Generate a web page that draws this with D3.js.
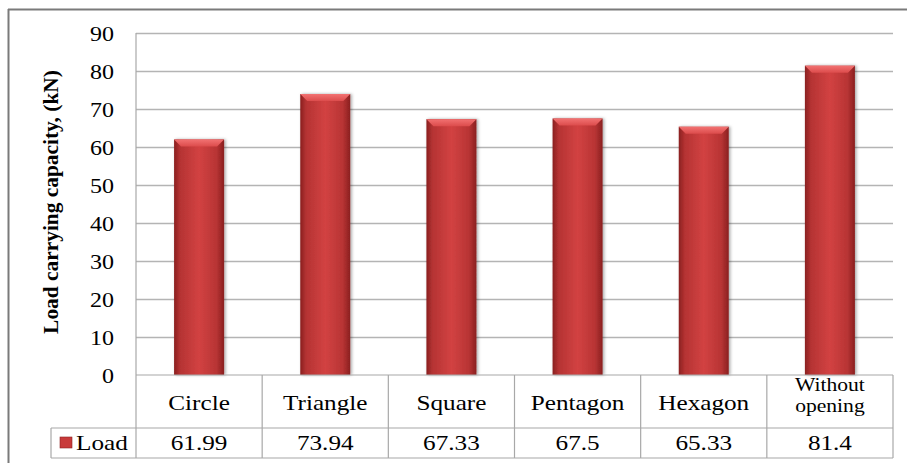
<!DOCTYPE html>
<html><head><meta charset="utf-8">
<script src="https://cdn.jsdelivr.net/npm/d3@7"></script>
<style>body{margin:0;background:#fff}svg{display:block}</style>
</head><body>
<script>
const categories = ["Circle","Triangle","Square","Pentagon","Hexagon","Without opening"];
const loadValues = [61.99,73.94,67.33,67.5,65.33,81.4];
const valueLabels = ["61.99","73.94","67.33","67.5","65.33","81.4"];
const yTicks = [0,10,20,30,40,50,60,70,80,90];
const seriesName = "Load";
const yTitle = "Load carrying capacity, (kN)";

(function(){
const W=907,H=463;
const FF='"Liberation Serif"';
const SX=1.2;
const svg=d3.select("body").append("svg").attr("width",W).attr("height",H)
  .attr("font-family","Liberation Serif").style("font-family",FF);
const defs=svg.append("defs");
const g1=defs.append("linearGradient").attr("id","barG").attr("x1","0").attr("x2","1").attr("y1","0").attr("y2","0");
[[0,"#8a2020"],[0.12,"#b53333"],[0.5,"#d24242"],[0.85,"#b83434"],[1,"#8a2020"]].forEach(s=>g1.append("stop").attr("offset",s[0]).attr("stop-color",s[1]));
const g2=defs.append("linearGradient").attr("id","bevG").attr("x1","0").attr("x2","0").attr("y1","0").attr("y2","1");
[[0,"#f27272"],[1,"#dc4c4c"]].forEach(s=>g2.append("stop").attr("offset",s[0]).attr("stop-color",s[1]));
const f=defs.append("filter").attr("id","sh").attr("x","-20%").attr("y","-5%").attr("width","140%").attr("height","110%");
f.append("feDropShadow").attr("dx",1.5).attr("dy",0).attr("stdDeviation",1.5).attr("flood-color","#000").attr("flood-opacity",0.35);

// outer frame (top & left)
svg.append("line").attr("x1",8).attr("x2",W).attr("y1",9.5).attr("y2",9.5).attr("stroke","#7a7a7a").attr("stroke-width",2);
svg.append("line").attr("x1",8.5).attr("x2",8.5).attr("y1",9).attr("y2",H).attr("stroke","#7a7a7a").attr("stroke-width",2);

const pL=136,pR=893,pT=33,pB=375;
const x=d3.scaleBand().domain(categories).range([pL,pR]);
const y=d3.scaleLinear().domain([0,90]).range([pB,pT]);

// gridlines
svg.append("g").selectAll("line").data(yTicks.filter(d=>d>0)).join("line")
 .attr("x1",pL).attr("x2",pR).attr("y1",d=>y(d)+0.5).attr("y2",d=>y(d)+0.5)
 .attr("stroke","#b4b4b4").attr("stroke-width",1.5);

// y axis
const ya=svg.append("g").attr("transform",`translate(${pL},0)`)
 .call(d3.axisLeft(y).tickValues(yTicks).tickSize(0).tickPadding(0));
ya.attr("font-family","Liberation Serif").attr("font-size",null);
ya.select(".domain").remove();
ya.selectAll(".tick text").attr("x",null).attr("dy",null).attr("y",null)
 .attr("transform",`translate(-22,7) scale(${SX},1)`)
 .style("font-family",FF).style("font-size","20px").attr("fill","#000");

// y title
const tt=svg.append("text").style("font-family",FF).style("font-size","21px").style("font-weight","bold")
 .attr("text-anchor","middle").attr("fill","#000").text(yTitle);
const tl=tt.node().getComputedTextLength();
tt.attr("transform",`translate(58,202) rotate(-90) scale(${264/tl},1)`);

// bars
const bw=50;
const bars=svg.append("g").selectAll("g").data(categories).join("g");
bars.append("rect").attr("x",d=>x(d)+x.bandwidth()/2-bw/2).attr("y",(d,i)=>y(loadValues[i]))
 .attr("width",bw).attr("height",(d,i)=>pB-y(loadValues[i])).attr("fill","url(#barG)").attr("filter","url(#sh)");
bars.append("path").attr("d",(d,i)=>{const x0=x(d)+x.bandwidth()/2-bw/2,y0=y(loadValues[i]),b=7;
  return `M${x0},${y0}H${x0+bw}L${x0+bw-b},${y0+b}H${x0+b}Z`;}).attr("fill","url(#bevG)");

// table
const tc="#a8a8a8";
const rowTop=pB,rowMid=428,rowBot=458,legL=51;
const tbl=svg.append("g").attr("stroke",tc).attr("stroke-width",1.2);
tbl.append("line").attr("x1",pL).attr("x2",pL).attr("y1",pT).attr("y2",rowBot);
tbl.append("line").attr("x1",pL).attr("x2",pR).attr("y1",rowTop).attr("y2",rowTop);
tbl.append("line").attr("x1",legL).attr("x2",pR).attr("y1",rowMid).attr("y2",rowMid);
tbl.append("line").attr("x1",legL).attr("x2",pR).attr("y1",rowBot).attr("y2",rowBot);
tbl.append("line").attr("x1",legL).attr("x2",legL).attr("y1",rowMid).attr("y2",rowBot);
tbl.selectAll(".v").data(categories).join("line").attr("class","v")
 .attr("x1",d=>x(d)+x.bandwidth()).attr("x2",d=>x(d)+x.bandwidth()).attr("y1",rowTop).attr("y2",rowBot);

function label(sel,cx,cy,size,txt){
  return sel.append("text").attr("transform",`translate(${cx},${cy}) scale(${SX},1)`)
   .attr("text-anchor","middle").style("font-family",FF).style("font-size",size+"px").attr("fill","#000").text(txt);
}
const cg=svg.append("g");
categories.forEach(d=>{
  const cx=x(d)+x.bandwidth()/2;
  const words=d.split(" ");
  if(words.length>1 && d.length>10){
    label(cg,cx,391,18,words[0]);
    label(cg,cx,412,18,words.slice(1).join(" "));
  } else label(cg,cx,410,21,d);
});
const vg=svg.append("g");
valueLabels.forEach((v,i)=>label(vg,x(categories[i])+x.bandwidth()/2,450,21,v));

// legend
svg.append("rect").attr("x",60).attr("y",437).attr("width",12).attr("height",11).attr("fill","#c83a3a").attr("stroke","#8e2222").attr("stroke-width",0.6);
svg.append("text").attr("transform",`translate(76,450) scale(${SX},1)`).style("font-family",FF).style("font-size","21px")
 .attr("fill","#000").text(seriesName);
})();
</script>
</body></html>
